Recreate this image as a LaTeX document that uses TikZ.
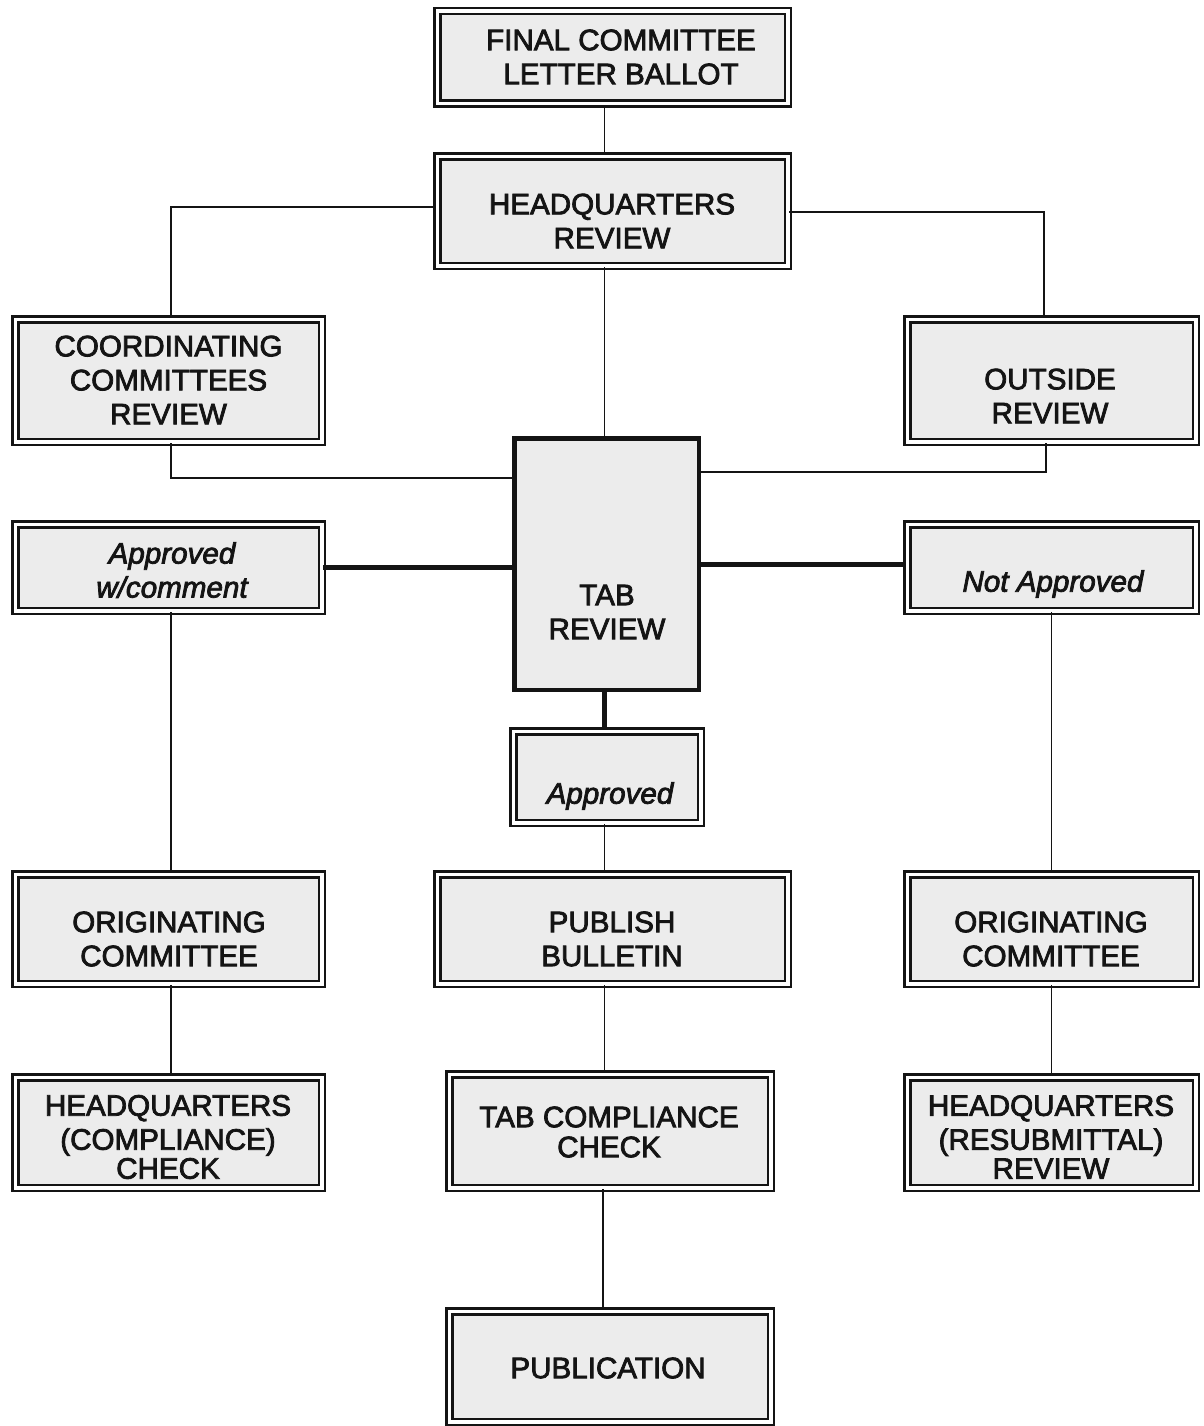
\documentclass[tikz,border=0pt]{standalone}
\usepackage{fontspec}
\setmainfont{Liberation Sans}
\newfontfamily\labfont{Liberation Sans}[FakeBold=2.6]
\newfontfamily\labifont{Liberation Sans Italic}[FakeBold=2.6]
\definecolor{ink}{HTML}{141414}
\definecolor{boxgray}{HTML}{ECECEC}
\begin{document}
\begin{tikzpicture}[x=1pt,y=-1pt,
  dbox/.style={rectangle, draw=ink, line width=2.6pt, double=white, double distance=3.4pt, fill=boxgray, inner sep=0pt},
  tbox/.style={rectangle, draw=ink, line width=4.5pt, fill=boxgray, inner sep=0pt},
  lbl/.style={font=\labfont\fontsize{29.6}{34}\selectfont, align=center, text=ink, inner sep=0pt},
  ilbl/.style={font=\labifont\fontsize{29.6}{34}\selectfont, align=center, text=ink, inner sep=0pt},
  conn/.style={draw=ink, line width=1.9pt},
  bold conn/.style={draw=ink, line width=5pt}]
\useasboundingbox (0,0) rectangle (1203,1426);
\fill[white] (0,0) rectangle (1203,1426);

% boxes
\node[dbox, minimum width=350.6pt, minimum height=92.6pt] (final) at (612.5,57.5) {};
\node[dbox, minimum width=350.6pt, minimum height=109.6pt] (hq) at (612.5,211) {};
\node[dbox, minimum width=306.6pt, minimum height=122.6pt] (coord) at (168.5,380.5) {};
\node[dbox, minimum width=288.6pt, minimum height=122.6pt] (outside) at (1051.5,380.5) {};
\node[tbox, minimum width=184.5pt, minimum height=251.5pt] (tab) at (606.5,564) {};
\node[dbox, minimum width=306.6pt, minimum height=86.6pt] (awc) at (168.5,567.5) {};
\node[dbox, minimum width=288.6pt, minimum height=86.6pt] (nap) at (1051.5,567.5) {};
\node[dbox, minimum width=187.6pt, minimum height=91.6pt] (appr) at (607,777) {};
\node[dbox, minimum width=306.6pt, minimum height=109.6pt] (origL) at (168.5,929) {};
\node[dbox, minimum width=350.6pt, minimum height=109.6pt] (pub) at (612.5,929) {};
\node[dbox, minimum width=288.6pt, minimum height=109.6pt] (origR) at (1051.5,929) {};
\node[dbox, minimum width=306.6pt, minimum height=110.6pt] (hqc) at (168.5,1132.5) {};
\node[dbox, minimum width=321.6pt, minimum height=113.6pt] (tcc) at (610,1131) {};
\node[dbox, minimum width=288.6pt, minimum height=110.6pt] (hqr) at (1051.5,1132.5) {};
\node[dbox, minimum width=321.6pt, minimum height=110.6pt] (publ) at (610,1366.5) {};

% labels
\node[lbl] (tfinal) at (621,57) {FINAL COMMITTEE\\LETTER BALLOT};
\node[lbl] (thq) at (612,221) {HEADQUARTERS\\REVIEW};
\node[lbl] (tcoord) at (168.5,380) {COORDINATING\\COMMITTEES\\REVIEW};
\node[lbl] (toutside) at (1050,396) {OUTSIDE\\REVIEW};
\node[lbl] (ttab) at (607,612) {TAB\\REVIEW};
\node[ilbl] (tawc) at (172,570) {Approved\\w/comment};
\node[ilbl] (tnap) at (1053,584) {Not Approved};
\node[ilbl] (tappr) at (610,796) {Approved};
\node[lbl] (torigL) at (169,939) {ORIGINATING\\COMMITTEE};
\node[lbl] (tpub) at (612,939) {PUBLISH\\BULLETIN};
\node[lbl] (torigR) at (1051,939) {ORIGINATING\\COMMITTEE};
\node[lbl] (thqc) at (168,1137) {HEADQUARTERS\\(COMPLIANCE)\\[-5pt]CHECK};
\node[lbl] (ttcc) at (609,1132) {TAB COMPLIANCE\\[-4pt]CHECK};
\node[lbl] (thqr) at (1051,1137) {HEADQUARTERS\\(RESUBMITTAL)\\[-5pt]REVIEW};
\node[lbl] (tpubl) at (608,1368) {PUBLICATION};

% connectors
\draw[conn] ([xshift=-8pt]final.south) -- ([xshift=-8pt]hq.north);
\draw[conn] ([yshift=4pt]hq.west) -| ([xshift=2.5pt]coord.north);
\draw[conn] ([yshift=-1pt]hq.east) -| ([xshift=-7.5pt]outside.north);
\draw[conn] ([xshift=-8pt]hq.south) -- ([xshift=-2pt]tab.north);
\draw[conn] ([xshift=2.5pt]coord.south) |- ([yshift=86pt]tab.west);
\draw[conn] ([xshift=-5.5pt]outside.south) |- ([yshift=92pt]tab.east);
\draw[bold conn] (awc.east) -- (awc.east -| tab.west);
\draw[bold conn] (tab.east) -- (tab.east -| nap.west);
\draw[bold conn] ([xshift=-2pt]tab.south) -- ([xshift=-2.5pt]appr.north);
\draw[conn] ([xshift=-2.5pt]appr.south) -- ([xshift=-8pt]pub.north);
\draw[conn] ([xshift=2.5pt]awc.south) -- ([xshift=2.5pt]origL.north);
\draw[conn] (nap.south) -- (origR.north);
\draw[conn] ([xshift=2.5pt]origL.south) -- ([xshift=2.5pt]hqc.north);
\draw[conn] ([xshift=-8pt]pub.south) -- ([xshift=-5.5pt]tcc.north);
\draw[conn] (origR.south) -- (hqr.north);
\draw[conn] ([xshift=-7pt]tcc.south) -- ([xshift=-7pt]publ.north);
\end{tikzpicture}
\end{document}
